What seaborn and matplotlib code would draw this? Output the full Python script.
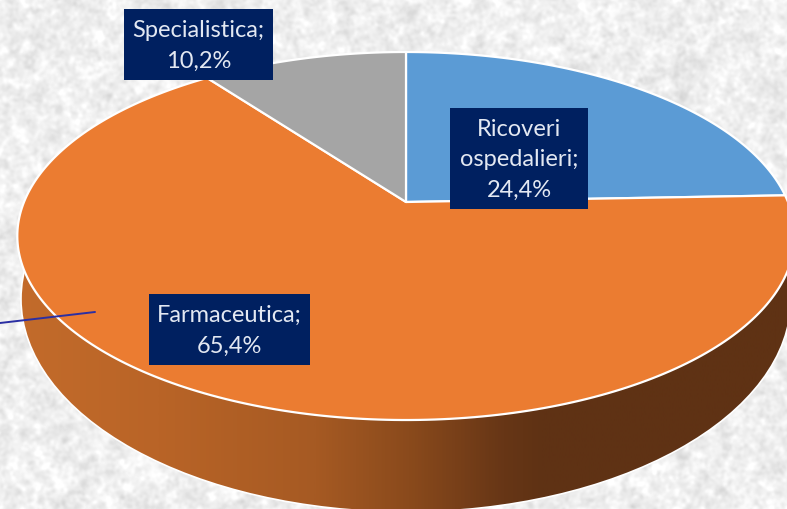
import numpy as np
import matplotlib
matplotlib.use("Agg")
import matplotlib.pyplot as plt
import seaborn as sns
from matplotlib.patches import Ellipse, Rectangle
from matplotlib.colors import LinearSegmentedColormap

categories = ["Ricoveri\nospedalieri", "Farmaceutica", "Specialistica"]
values = [24.4, 65.4, 10.2]
slice_colors = ["#5B9BD5", "#EB7C31", "#A5A5A5"]
label_boxes = [(450, 108, 138, 101), (149, 294, 161, 71), (124, 9, 149, 71)]

sns.set_theme(style="white")
plt.rcParams["font.family"] = ["Lato", "DejaVu Sans"]
palette = sns.color_palette(slice_colors)

W, H = 787, 509
fig = plt.figure(figsize=(W / 100, H / 100), dpi=100)
ax = fig.add_axes([0, 0, 1, 1])

# Perspective tilt of the unit-circle pie onto the picture plane
CX, CY, A, C, D = 406.0, 202.0, -140.4, 0.1848, 382.0
def tilt(x, y):
    den = C * y + 1
    return CX + D * x / den, (A * y + CY) / den

wedges, _ = ax.pie(values, colors=palette, startangle=90, counterclock=False)
angles = [(w.theta1, w.theta2) for w in wedges]
for w in wedges:
    w.remove()
ax.set_aspect("auto")
ax.set_xlim(0, W)
ax.set_ylim(H, 0)
ax.axis("off")

# Stone-like backdrop (decorative only)
rng = np.random.default_rng(3)
noise = rng.normal(size=(H, W))
fy = np.fft.fftfreq(H)[:, None]
fx = np.fft.rfftfreq(W)[None, :]
spec = np.fft.rfft2(noise)
fine = np.fft.irfft2(spec * np.exp(-(fx**2 + fy**2) * 2 * (np.pi * 1.6) ** 2), s=(H, W))
coarse = np.fft.irfft2(spec * np.exp(-(fx**2 + fy**2) * 2 * (np.pi * 5) ** 2), s=(H, W))
tex = 0.935 + 0.018 * fine / fine.std() + 0.012 * coarse / coarse.std()
ax.imshow(np.clip(tex, 0, 1), cmap="gray", vmin=0, vmax=1, extent=(0, W, H, 0),
          aspect="auto", interpolation="bilinear", zorder=0)

# Side wall with left-to-right shading
wall_cmap = LinearSegmentedColormap.from_list(
    "wall",
    [(0.0, "#C46C2B"), (0.2, "#B96427"), (0.4, "#A65A23"), (0.52, "#8A4A1C"),
     (0.64, "#673616"), (0.69, "#5F3214"), (1.0, "#5F3214")],
)
grad = np.linspace(0, 1, 512)[None, :]
im = ax.imshow(grad, cmap=wall_cmap, extent=(0, W, H, 0), aspect="auto", zorder=1)
outer = Ellipse((406, 299), 770, 426, fc="none", ec="#FFFFFF", lw=1.2, zorder=1.5)
ax.add_patch(outer)
im.set_clip_path(outer)

# Top face
for (t1, t2), col in zip(angles, palette):
    th = np.radians(np.linspace(t1, t2, 240))
    px, py = tilt(np.cos(th), np.sin(th))
    cx, cy = tilt(0.0, 0.0)
    ax.fill(np.r_[cx, px], np.r_[cy, py], fc=col, ec="white", lw=1.6,
            joinstyle="round", zorder=2)

# Leader line
ax.plot([0, 95], [323, 312], color="#2B2FA3", lw=1.4, zorder=3)

# Labels
for cat, val, (x, y, w, h) in zip(categories, values, label_boxes):
    ax.add_patch(Rectangle((x, y), w, h, fc="#002060", ec="none", zorder=4))
    txt = f"{cat};\n{val:.1f}%".replace(".", ",")
    ax.text(x + w / 2, y + h / 2 + 1.5, txt, ha="center", va="center", color="#E3E8F2",
            fontsize=17, linespacing=1.55, zorder=5)

fig.savefig("out.png", dpi=100)
